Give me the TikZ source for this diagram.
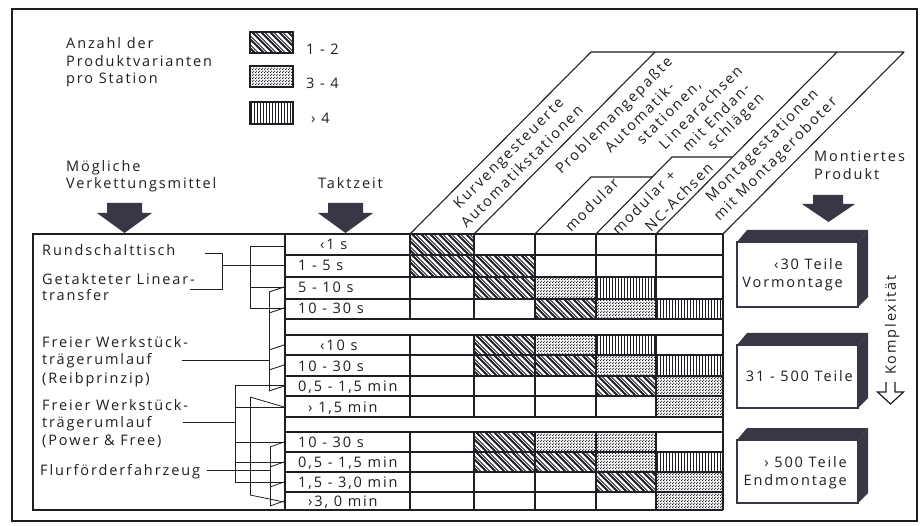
\documentclass[tikz,border=0pt]{standalone}
\usepackage{fontspec}
\setmainfont{Open Sans}[LetterSpace=13]
\usetikzlibrary{patterns.meta}
\definecolor{ink}{RGB}{30,30,36}
\definecolor{dk}{RGB}{55,55,70}
\tikzdeclarepattern{name=ddots, type=uncolored,
  bounding box={(0pt,0pt) and (3pt,3pt)}, tile size={(3pt,3pt)},
  code={\pgfpathcircle{\pgfpoint{0.75pt}{0.75pt}}{0.9pt}%
        \pgfpathcircle{\pgfpoint{2.25pt}{2.25pt}}{0.9pt}%
        \pgfusepath{fill}}}
\begin{document}
\begin{tikzpicture}[x=1pt,y=-1pt,
  font=\fontsize{14.5}{16}\selectfont,
  every node/.style={inner sep=0pt, text=ink},
  grid/.style={line width=1.3pt, draw=ink},
  conn/.style={line width=0.8pt, draw=ink},
  hdr/.style={line width=1.1pt, draw=ink, line join=round},
  bigarrow/.style={fill=dk},
  lt/.style={anchor=base west},
  rt/.style={anchor=base east},
  face/.style={fill=dk},
  front/.style={draw=dk, line width=1.8pt, fill=white},
  hatchline/.style={draw=ink, line width=2.1pt},
  hatchthin/.style={draw=ink, line width=0.9pt},
  vline/.style={draw=ink, line width=1.0pt},
  twoline/.style={align=center, font=\fontsize{14.5}{19}\selectfont}]
\useasboundingbox (0,0) rectangle (923,526);
\fill[white] (0,0) rectangle (923,526);
\draw[line width=1.2pt, draw=ink] (12,9) rectangle (917,521);

% ---- pattern cells: diagonal hatch
\foreach \xa/\xb/\ya/\yb in {
  250/293/32/53,
  410/474/234/255,
  410/474/255/277, 474/535/255/277,
  474/535/277/299,
  535/596/299/319,
  474/535/335/355,
  474/535/355/376, 535/596/355/376,
  596/656/376/396,
  474/535/432/452,
  474/535/452/472, 535/596/452/472,
  596/656/472/492} {
  \begin{scope}
    \clip (\xa,\ya) rectangle (\xb,\yb);
    \foreach \s in {-27,-18,...,72} {
      \draw[hatchline] (\xa+\s,\ya-2) -- ++(27,27);
      \draw[hatchthin] (\xa+\s+3.6,\ya-2) -- ++(27,27);
    }
  \end{scope}
}
% ---- dots
\foreach \xa/\xb/\ya/\yb in {
  250/293/66/87,
  535/596/277/299, 596/656/299/319,
  535/596/335/355, 596/656/355/376, 656/723/376/396, 656/723/396/417,
  535/596/432/452, 596/656/432/452, 596/656/452/472, 656/723/472/492, 656/723/492/510}
  \fill[pattern=ddots, pattern color=ink] (\xa,\ya) rectangle (\xb,\yb);
% ---- vertical lines
\foreach \xa/\xb/\ya/\yb in {
  250/293/102/124,
  596/656/277/299, 656/723/299/319,
  596/656/335/355, 656/723/355/376, 656/723/452/472} {
  \begin{scope}
    \clip (\xa,\ya) rectangle (\xb,\yb);
    \foreach \s in {1.5,4.5,...,70} \draw[vline] (\xa+\s,\ya) -- (\xa+\s,\yb);
  \end{scope}
}

% legend
\node[lt] (l1) at (66,49) {Anzahl der};
\node[lt] (l2) at (66,67) {Produktvarianten};
\node[lt] (l3) at (66,84) {pro Station};
\draw[draw=ink, line width=1.3pt] (250,32) rectangle (293,53);
\draw[draw=ink, line width=1.3pt] (250,66) rectangle (293,87);
\draw[draw=ink, line width=1.3pt] (250,102) rectangle (293,124);
\node[lt] (k1) at (306,55) {1 - 2};
\node[lt] (k2) at (306,89) {3 - 4};
\node[lt] (k3) at (311,124) {› 4};

% column titles
\node[lt] (m1) at (66,172) {Mögliche};
\node[lt] (m2) at (66,189) {Verkettungsmittel};
\node[lt] (tz) at (318,189) {Taktzeit};
\node[lt] (mp1) at (814,162) {Montiertes};
\node[lt] (mp2) at (814,180) {Produkt};

% big arrows
\fill[bigarrow] (107,203) -- (142,203) -- (142,213) -- (152,213) -- (124.5,233) -- (97,213) -- (107,213) -- cycle;
\fill[bigarrow] (328,203) -- (363,203) -- (363,213) -- (373,213) -- (345.5,233) -- (318,213) -- (328,213) -- cycle;
\fill[bigarrow] (813,195) -- (843,195) -- (843,204) -- (855,204) -- (828.5,222) -- (802,204) -- (813,204) -- cycle;

% left box
\draw[grid] (33,234) rectangle (285,510);
\node[lt] (a1) at (42,256) {Rundschalttisch};
\node[lt] (a2) at (42,285) {Getakteter Linear-};
\node[lt] (a3) at (42,300.5) {transfer};
\node[lt] (b1) at (42,347) {Freier Werkstück-};
\node[lt] (b2) at (42,364) {trägerumlauf};
\node[lt] (b3) at (42,383) {(Reibprinzip)};
\node[lt] (c1) at (42,410) {Freier Werkstück-};
\node[lt] (c2) at (42,427) {trägerumlauf};
\node[lt] (c3) at (42,445) {(Power \& Free)};
\node[lt] (d1) at (40,475) {Flurförderfahrzeug};

% connectors
\draw[conn] (205,253) -- (222,253) -- (222,289) -- (190,289);
\draw[conn] (222,265) -- (285,265);
\draw[conn] (250,246) -- (250,308);
\foreach \r in {246,287,308} \draw[conn] (250,\r) -- (285,\r);
\draw[conn] (182,360) -- (269,360);
\draw[conn] (269,292) -- (269,391);
\foreach \r in {287,308,345,365,386} \draw[conn] (269,\r+5) -- (284,\r);
\draw[conn] (183,422) -- (235,422);
\draw[conn] (235,385) -- (235,482);
\foreach \r in {385,407,442,462,482} \draw[conn] (235,\r) -- (284,\r);
\draw[conn] (250,397) -- (250,495);
\draw[conn] (250,397) -- (284,407);
\draw[conn] (250,495) -- (284,502);
\draw[conn] (207,470) -- (270,470);
\draw[conn] (270,447) -- (270,506);
\foreach \r in {442,462,482,501} \draw[conn] (270,\r+5) -- (284,\r);

% grid
\foreach \y in {234,255,277,299,319,335,355,376,396,417,432,452,472,492,510}
  \draw[grid] (285,\y) -- (723,\y);
\foreach \x in {410,474,535,596,656} {
  \draw[grid] (\x,234) -- (\x,319);
  \draw[grid] (\x,335) -- (\x,417);
  \draw[grid] (\x,432) -- (\x,510);
}
\draw[grid] (723,234) -- (723,510);

% Taktzeit texts
\node[lt] (r1) at (320,250) {‹1 s};
\node[lt] (r2) at (298,271) {1 - 5 s};
\node[lt] (r3) at (298,293) {5 - 10 s};
\node[lt] (r4) at (298,314) {10 - 30 s};
\node[lt] (r5) at (320,350) {‹10 s};
\node[lt] (r6) at (298,371) {10 - 30 s};
\node[lt] (r7) at (298,391) {0,5 - 1,5 min};
\node[lt] (r8) at (308,412) {› 1,5 min};
\node[lt] (r9) at (298,447) {10 - 30 s};
\node[lt] (r10) at (298,467) {0,5 - 1,5 min};
\node[lt] (r11) at (298,487) {1,5 - 3,0 min};
\node[lt] (r12) at (308,506) {›3, 0 min};

% header lines
\coordinate (t0) at (591,52);
\coordinate (t6) at (904,52);
\draw[hdr] (410,234) -- (t0) -- (t6) -- (723,234);
\draw[hdr] (474,234) -- (655,52);
\draw[hdr] (656,234) -- (837,52);
\draw[hdr] (535,234) -- (591,177) -- (652,177);
\draw[hdr] (596,234) -- (672,157) -- (732,157);

% header texts
\begin{scope}[shift={(410,233)}, rotate=45, transform shape]
  \node[twoline] (h1) at (126,22.5) {Kurvengesteuerte\\Automatikstationen};
\end{scope}
\begin{scope}[shift={(474,233)}, rotate=45, transform shape]
  \node (h2a) at (182,17) {Problemangepaßte};
  \node (h2b) at (199,35) {Automatik-};
  \node (h2c) at (223,53) {stationen,};
  \node (h2d) at (249,71) {Linearachsen};
  \node (h2e) at (253,89) {mit Endan-};
  \node (h2f) at (264,107) {schlägen};
\end{scope}
\begin{scope}[shift={(535,233)}, rotate=45, transform shape]
  \node (h3) at (60,20) {modular};
\end{scope}
\begin{scope}[shift={(596,233)}, rotate=45, transform shape]
  \node (h4a) at (55.5,12) {modular +};
  \node (h4b) at (84,33) {NC-Achsen};
\end{scope}
\begin{scope}[shift={(656,233)}, rotate=45, transform shape]
  \node[twoline] (h5) at (137,23.5) {Montagestationen\\mit Montageroboter};
\end{scope}

% product boxes
\foreach \yt/\yb in {242/307, 345/408, 440/503} {
  \fill[face] (737,\yt) -- (747,\yt-12) -- (868,\yt-12) -- (858,\yt) -- cycle;
  \fill[face] (858,\yt) -- (868,\yt-12) -- (868,\yb-10) -- (858,\yb) -- cycle;
  \draw[front] (737,\yt) rectangle (858,\yb);
}
\node[rt] (p1a) at (843,270) {‹30 Teile};
\node[rt] (p1b) at (843,288) {Vormontage};
\node[rt] (p2) at (853,381) {31 - 500 Teile};
\node[rt] (p3a) at (847,467) {› 500 Teile};
\node[rt] (p3b) at (847,485) {Endmontage};

% Komplexitaet
\node[rotate=90] (kx) at (892,325) {Komplexität};
\draw[line width=1.2pt, draw=ink, line join=miter] (886,382) -- (886,392) -- (877.5,392) -- (890.5,404) -- (903.5,392) -- (895,392) -- (895,382);
\end{tikzpicture}
\end{document}
